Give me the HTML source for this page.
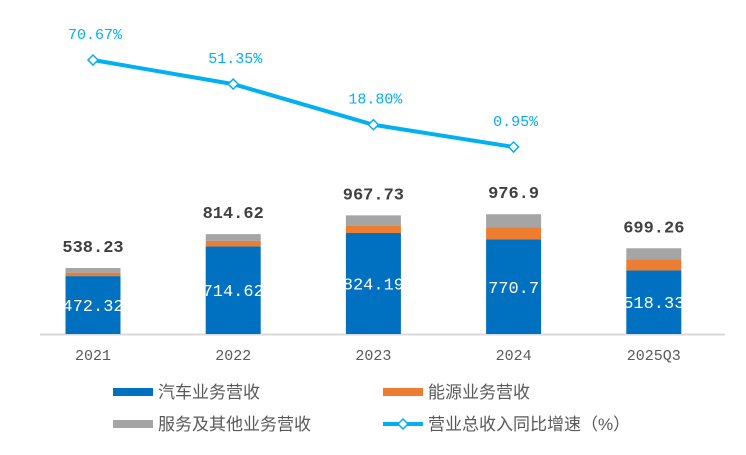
<!DOCTYPE html>
<html><head><meta charset="utf-8"><style>
body{margin:0;background:#fff;}
svg text{font-family:"Liberation Mono","Noto Sans CJK SC",monospace;}
.cjk{font-family:"Liberation Sans","Noto Sans CJK SC",sans-serif !important;}
</style></head><body>
<svg id="chart" width="746" height="450" xmlns="http://www.w3.org/2000/svg"></svg>
<script>
const categories=["2021","2022","2023","2024","2025Q3"];
const autoRev=[472.32,714.62,824.19,770.7,518.33];
const energyRev=[28,45,60,101,90];
const serviceRev=[37.91,55,83.54,105.2,90.93];
const totals=["538.23","814.62","967.73","976.9","699.26"];
const growth=[70.67,51.35,18.80,0.95];
const growthLabels=["70.67%","51.35%","18.80%","0.95%"];

const NS="http://www.w3.org/2000/svg";
const svg=document.getElementById('chart');
function mk(t,a,p){const e=document.createElementNS(NS,t);for(const k in a)e.setAttribute(k,a[k]);(p||svg).appendChild(e);return e;}
const base=334,k=0.1226,bw=55;
const xc=i=>93+i*140.2;
const yv=v=>base-v*k;
const yg=v=>148.2-v*1.248;

const ax=mk('line',{x1:40,x2:725,y1:base+0.5,y2:base+0.5,stroke:'#d9d9d9','stroke-width':2});



categories.forEach((c,i)=>{
  const x=xc(i)-bw/2;
  const a=autoRev[i],e=energyRev[i],s=serviceRev[i];
  const r1=mk('rect',{x:x,y:yv(a),width:bw,height:a*k,fill:'#0070c0'});
  
  
  const r2=mk('rect',{x:x,y:yv(a+e),width:bw,height:e*k,fill:'#ed7d31'});
  
  
  const r3=mk('rect',{x:x,y:yv(a+e+s),width:bw,height:s*k,fill:'#a5a5a5'});
  
  
  const t1=mk('text',{x:xc(i),y:yv(a/2)+6,'text-anchor':'middle','font-size':17,fill:'#fff'});
  t1.textContent=a;
  
  
  const t2=mk('text',{x:xc(i),y:yv(a+e+s)-16,'text-anchor':'middle','font-size':17,'font-weight':'bold',fill:'#404040'});
  t2.textContent=totals[i];
  
  
  const t3=mk('text',{x:xc(i),y:360,'text-anchor':'middle','font-size':15,fill:'#595959'});
  t3.textContent=c;
  
  
});

const pts=growth.map((g,i)=>xc(i)+','+yg(g)).join(' ');
const pl=mk('polyline',{points:pts,fill:'none',stroke:'#00b0f0','stroke-width':4});


growth.forEach((g,i)=>{
  const x=xc(i),y=yg(g);
  const d=mk('path',{d:`M${x-5} ${y}L${x} ${y-5}L${x+5} ${y}L${x} ${y+5}Z`,fill:'#fff',stroke:'#00b0f0','stroke-width':1.5});
  
  
  const t=mk('text',{x:x+2,y:y-21,'text-anchor':'middle','font-size':15,fill:'#00b0f0'});
  t.textContent=growthLabels[i];
  
  
});

const legend=[
 ['汽车业务营收','#0070c0',113,392,'rect'],
 ['能源业务营收','#ed7d31',383,392,'rect'],
 ['服务及其他业务营收','#a5a5a5',113,424,'rect'],
 ['营业总收入同比增速（%）','#00b0f0',383,424,'line']];
legend.forEach(l=>{
  const g=mk('g',{});
  
  
  if(l[4]==='rect'){mk('rect',{x:l[2],y:l[3]-4,width:40,height:8,fill:l[1]},g);}
  else{mk('line',{x1:l[2],x2:l[2]+40,y1:l[3],y2:l[3],stroke:l[1],'stroke-width':4},g);
    const x=l[2]+20,y=l[3];mk('path',{d:`M${x-5} ${y}L${x} ${y-5}L${x+5} ${y}L${x} ${y+5}Z`,fill:'#fff',stroke:l[1],'stroke-width':1.5},g);}
  const t=mk('text',{x:l[2]+45,y:l[3]+6,'font-size':17,fill:'#595959',class:'cjk'},g);
  t.textContent=l[0];
});
</script>
</body></html>
